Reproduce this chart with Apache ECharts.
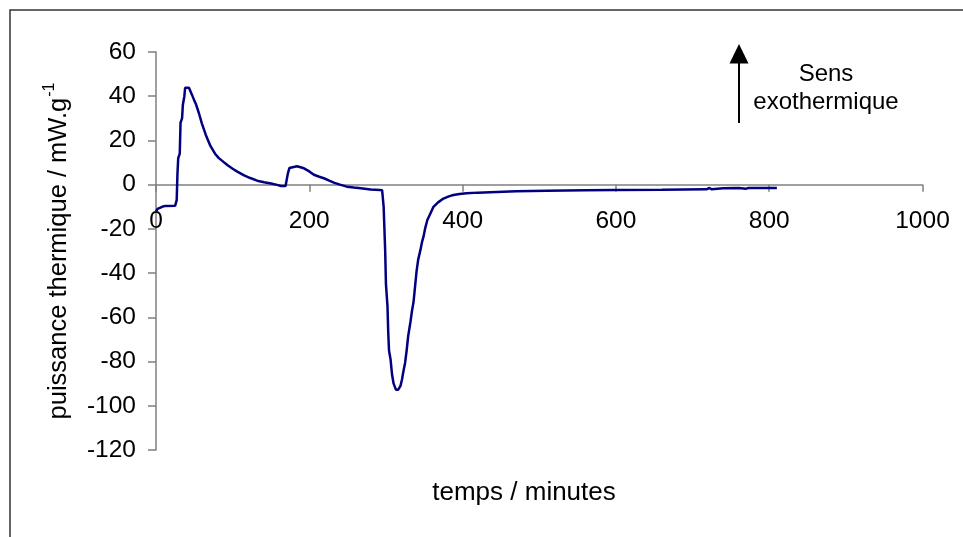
<!DOCTYPE html>
<html>
<head>
<meta charset="utf-8">
<script src="https://cdn.jsdelivr.net/npm/echarts@6/dist/echarts.min.js"></script>
<style>html,body{margin:0;padding:0;background:#fff;}#c{width:963px;height:537px;}</style>
</head>
<body>
<div id="c"></div>
<script>
// time (minutes)
var timeMin = [0,2,8,12,25,27,28,29,31,32,34,35,37,38,43,45,47,50,52,56,60,65,71,77,82,88,93,100,106,115,123,132,141,150,158,163,169,171,172,174,176,184,193,200,206,213,219,226,232,240,249,258,267,280,292,295,297,299,300,302,303,304,306,308,310,313,316,319,321,323,325,327,329,332,334,336,338,340,342,345,347,349,351,354,358,362,368,375,382,388,396,405,420,436,470,510,560,601,660,718,722,725,740,760,770,773,790,810];
// thermal power (mW/g)
var powerVal = [-12.2,-11.0,-10,-9.6,-9.5,-7,5,12,14,28,30,36,40,43.8,43.8,43,40.6,38,36.5,32.3,27.5,22.5,17.5,14,12,10.3,8.9,7.2,5.9,4.2,3,1.8,1.1,0.5,-0.1,-0.6,-0.6,-0.2,5,7.5,8.2,8.3,7.4,6,4.5,3.6,2.9,1.8,0.9,0,-0.9,-1.3,-1.6,-2.2,-2.4,-2.5,-10,-30,-45,-55,-67,-75,-79,-86,-90,-92.7,-92.7,-91,-88,-84,-80.5,-75,-68.5,-62,-57,-53,-46,-39,-34,-29.5,-26,-23.5,-20,-16,-13,-10,-8,-6.3,-5.3,-4.7,-4.2,-3.9,-3.6,-3.4,-3.0,-2.7,-2.5,-2.4,-2.3,-2.1,-1.5,-2.1,-1.6,-1.5,-1.8,-1.5,-1.5,-1.5];
var xTicks = [0,200,400,600,800,1000];
var yTicks = [-120,-100,-80,-60,-40,-20,0,20,40,60];

var pts = timeMin.map(function(t,i){return [t, powerVal[i]];});
var FONT = '"Liberation Sans", Arial, sans-serif';
var GRID_TOP = 52, GRID_BOTTOM = 87, H = 537;
var plotH = H - GRID_TOP - GRID_BOTTOM;
var yMin = yTicks[0], yMax = yTicks[yTicks.length-1];
// distance from grid bottom up to the y=0 line, so the x axis sits on zero
var xAxisOffset = plotH * (0 - yMin) / (yMax - yMin);

var chart = echarts.init(document.getElementById('c'), null, {renderer:'canvas'});
chart.setOption({
  animation:false,
  backgroundColor:'#fff',
  grid:{left:156, right:40.5, top:GRID_TOP, bottom:GRID_BOTTOM, containLabel:false, outerBoundsMode:'none'},
  xAxis:{
    type:'value', min:xTicks[0], max:xTicks[xTicks.length-1], interval:200,
    position:'bottom', offset:-xAxisOffset,
    axisLine:{show:true, onZero:false, lineStyle:{color:'#808080', width:1.5}},
    axisTick:{show:true, length:7, lineStyle:{color:'#808080', width:1.5}},
    axisLabel:{margin:24, fontSize:24.5, color:'#000', fontFamily:FONT, formatter:function(v){return String(v);}},
    splitLine:{show:false}
  },
  yAxis:{
    type:'value', min:yMin, max:yMax, interval:20,
    axisLine:{show:true, onZero:false, lineStyle:{color:'#808080', width:1.5}},
    axisTick:{show:true, length:8, lineStyle:{color:'#808080', width:1.5}},
    axisLabel:{margin:20, fontSize:24.5, color:'#000', fontFamily:FONT},
    splitLine:{show:false},
    name:'{a|puissance thermique / mW.g}{s|-1}',
    nameLocation:'middle', nameRotate:90, nameGap:84,
    nameTextStyle:{
      rich:{
        a:{fontSize:25.5, color:'#000', fontFamily:FONT, lineHeight:30, verticalAlign:'bottom'},
        s:{fontSize:16, color:'#000', fontFamily:FONT, lineHeight:30, verticalAlign:'top', padding:[0,0,0,1]}
      }
    }
  },
  series:[{
    type:'line', data:pts, showSymbol:false, symbol:'none',
    lineStyle:{color:'#000080', width:2.5}, itemStyle:{color:'#000080'}
  }],
  graphic:[
    {type:'rect', shape:{x:10, y:10, width:1000, height:600}, style:{fill:null, stroke:'#333', lineWidth:1.5}, silent:true},
    {type:'text', x:524, y:493, style:{text:'temps / minutes', font:'26px '+FONT, fill:'#000', align:'center', verticalAlign:'middle'}},
    {type:'line', shape:{x1:739, y1:123, x2:739, y2:60}, style:{stroke:'#000', lineWidth:2}},
    {type:'polygon', shape:{points:[[729.5,63.5],[748.5,63.5],[739,44]]}, style:{fill:'#000'}},
    {type:'text', x:826, y:74, style:{text:'Sens', font:'24px '+FONT, fill:'#000', align:'center', verticalAlign:'middle'}},
    {type:'text', x:826, y:102, style:{text:'exothermique', font:'24px '+FONT, fill:'#000', align:'center', verticalAlign:'middle'}}
  ]
});
</script>
</body>
</html>
